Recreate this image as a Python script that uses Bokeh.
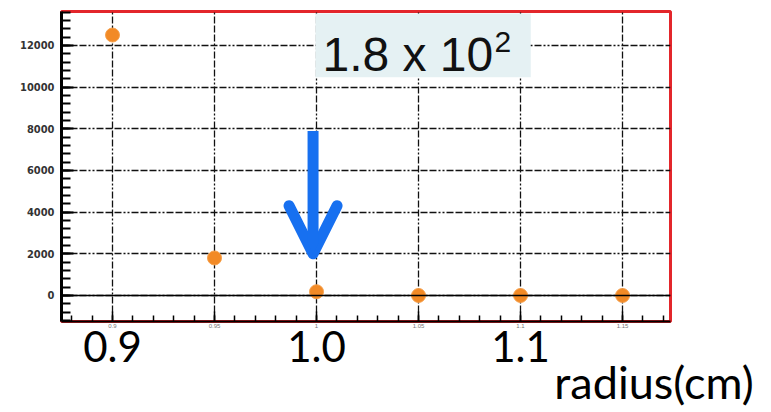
from bokeh.plotting import figure
from bokeh.models import (Range1d, FixedTicker, Span, Label, Arrow, OpenHead,
                          BoxAnnotation, ColumnDataSource, LinearAxis)
from bokeh.embed import file_html
from bokeh.resources import INLINE

# ---- data ----
radius = [0.90, 0.95, 1.00, 1.05, 1.10, 1.15]
counts = [12500, 1800, 180, 0, 0, 0]
x_ticks = [0.90, 0.95, 1.00, 1.05, 1.10, 1.15]
x_tick_labels = ["0.9", "0.95", "1", "1.05", "1.1", "1.15"]
y_ticks = [0, 2000, 4000, 6000, 8000, 10000, 12000]
big_x_ticks = [0.9, 1.0, 1.1]
big_x_labels = ["0.9", "1.0", "1.1"]
x_title = "radius(cm)"
note_main = "1.8 x 10"
note_sup = "2"
arrow_x = 1.0
arrow_from = 7900
arrow_to = 2000

TITLE_POS = 1.1654  # horizontal centre of the hand-placed axis title

p = figure(width=771, height=412, output_backend="svg", toolbar_location=None,
           x_range=Range1d(0.875, 1.1735), y_range=Range1d(-1250, 13630),
           min_border_left=61, min_border_right=101, min_border_top=11,
           min_border_bottom=91)
p.background_fill_color = "white"
p.border_fill_color = "white"
p.outline_line_color = "#e3262b"
p.outline_line_width = 3

# axes
p.xaxis.ticker = FixedTicker(ticks=x_ticks,
                             minor_ticks=[round(0.87 + 0.01 * i, 2) for i in range(31)])
p.xaxis.major_label_overrides = {t: l for t, l in zip(x_ticks, x_tick_labels)}
p.xaxis.major_label_text_font_size = "6px"
p.xaxis.major_label_text_color = "#777777"
p.xaxis.major_label_standoff = 2
p.xaxis.axis_line_color = "black"
p.xaxis.axis_line_width = 2
p.xaxis.major_tick_in = 10
p.xaxis.major_tick_out = 0
p.xaxis.minor_tick_in = 6
p.xaxis.minor_tick_out = 0
p.xaxis.major_tick_line_color = "black"
p.xaxis.minor_tick_line_color = "black"
p.xaxis.major_tick_line_width = 1.5
p.xaxis.minor_tick_line_width = 1.5

p.yaxis.ticker = FixedTicker(ticks=y_ticks,
                             minor_ticks=[-1200 + 400 * i for i in range(38)])
p.yaxis.formatter.use_scientific = False
p.yaxis.major_label_text_font = "Liberation Sans Narrow, DejaVu Sans Condensed, sans-serif"
p.yaxis.major_label_text_font_size = "11px"
p.yaxis.major_label_text_font_style = "bold"
p.yaxis.major_label_text_color = "#333333"
p.yaxis.major_label_standoff = 7
p.yaxis.axis_line_color = "black"
p.yaxis.axis_line_width = 3
p.yaxis.major_tick_in = 12
p.yaxis.major_tick_out = 0
p.yaxis.minor_tick_in = 9
p.yaxis.minor_tick_out = 0
p.yaxis.major_tick_line_color = "black"
p.yaxis.minor_tick_line_color = "black"
p.yaxis.major_tick_line_width = 2
p.yaxis.minor_tick_line_width = 2


def plain_axis(ticks, labels, size, standoff):
    ax = LinearAxis(ticker=FixedTicker(ticks=ticks, minor_ticks=[]))
    ax.major_label_overrides = {t: l for t, l in zip(ticks, labels)}
    ax.major_label_text_font = "Lato"
    ax.major_label_text_font_size = size
    ax.major_label_text_color = "black"
    ax.major_label_standoff = standoff
    ax.axis_line_alpha = 0
    ax.major_tick_in = 0
    ax.major_tick_out = 0
    ax.minor_tick_in = 0
    ax.minor_tick_out = 0
    ax.major_tick_line_alpha = 0
    ax.minor_tick_line_alpha = 0
    return ax


# big annotation labels under the frame, and the axis title
p.add_layout(plain_axis(big_x_ticks, big_x_labels, "42px", 0), "below")
p.add_layout(plain_axis([TITLE_POS], [x_title], "45px", -10), "below")

# grid
for g in (p.xgrid, p.ygrid):
    g.grid_line_color = "#111111"
    g.grid_line_width = 1.3
    g.grid_line_dash = "7 2 7 2 7 2 2 2 2 2"
p.xgrid.ticker = FixedTicker(ticks=x_ticks)
p.ygrid.ticker = FixedTicker(ticks=y_ticks)

# zero line
p.add_layout(Span(location=0, dimension="width", line_color="black", line_width=1.5))

# data points
src = ColumnDataSource(dict(x=radius, y=counts))
p.scatter("x", "y", source=src, size=14, fill_color="#f28a26",
          line_color="#f6a24f", line_width=1)

# highlighted note box
p.add_layout(BoxAnnotation(left=0.9995, right=1.105, top=13540, bottom=10470,
                           fill_color="#e5f1f3", fill_alpha=1, line_alpha=0,
                           level="overlay"))
p.add_layout(Label(x=1.0029, y=11560, text=note_main, text_font="Liberation Sans",
                   text_font_size="48px", text_color="#111111",
                   text_baseline="alphabetic", level="overlay"))
p.add_layout(Label(x=1.0872, y=12150, text=note_sup, text_font="Liberation Sans",
                   text_font_size="30px", text_color="#111111",
                   text_baseline="alphabetic", level="overlay"))

# arrow
p.add_layout(Arrow(x_start=arrow_x - 0.0017, y_start=arrow_from,
                   x_end=arrow_x - 0.0017, y_end=arrow_to,
                   line_color="#1770f0", line_width=11,
                   end=OpenHead(size=48, line_color="#1770f0", line_width=11,
                                line_cap="round", line_join="round")))

open("out.html", "w").write(file_html(p, INLINE))
